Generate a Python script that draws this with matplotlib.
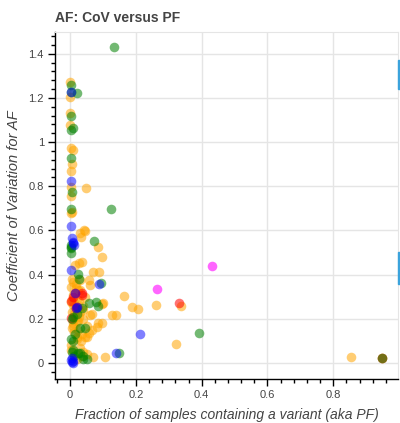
import matplotlib
matplotlib.use("Agg")
import matplotlib.pyplot as plt
from matplotlib.ticker import FixedLocator, MultipleLocator, FuncFormatter
from matplotlib.patches import Rectangle

title = "AF: CoV versus PF"
xlabel = "Fraction of samples containing a variant (aka PF)"
ylabel = "Coefficient of Variation for AF"
xticks = [0, 0.2, 0.4, 0.6, 0.8]
yticks = [0, 0.2, 0.4, 0.6, 0.8, 1.0, 1.2, 1.4]

orange_x = [0, 0, 0, 0, 0.003, 0.01, 0.005, 0.003, 0.003, 0.048, 0.003, 0.005, 0.003,
            0.043, 0.03, 0.044, 0.033, 0.086, 0.096, 0.028, 0.035, 0.015, 0.071, 0.089,
            0.005, 0.01, 0.03, 0.056, 0.061, 0.003, 0.025, 0.164, 0.005, 0.098, 0.099,
            0.337, 0.26, 0.189, 0.206, 0.066, 0.14, 0.127, 0.096, 0.086, 0.081, 0.066,
            0.051, 0.056, 0.046, 0.321, 0.106, 0.071, 0.853, 0.949, 0.003, 0.01, 0.027,
            0.061, 0.003, 0.003, 0.015, 0.01, 0.02, 0.015, 0.03, 0.02, 0.01, 0.025, 0.035,
            0.02, 0.04, 0.045, 0.005, 0.012, 0.03, 0.018, 0.04, 0.05, 0.03, 0.04, 0.05,
            0.02, 0.035, 0.012, 0.022, 0.008, 0.028, 0.015, 0.025, 0.006, 0.018, 0.033,
            0.012, 0.038, 0.022]
orange_y = [1.273, 1.205, 1.13, 1.077, 0.971, 0.964, 0.903, 0.870, 0.798, 0.79, 0.757, 0.685, 0.68,
            0.60, 0.587, 0.597, 0.571, 0.526, 0.478, 0.454, 0.458, 0.443, 0.413, 0.413,
            0.38, 0.368, 0.376, 0.376, 0.353, 0.345, 0.33, 0.305, 0.285, 0.267, 0.27,
            0.258, 0.261, 0.255, 0.246, 0.22, 0.217, 0.217, 0.182, 0.18, 0.164, 0.149,
            0.119, 0.134, 0.119, 0.086, 0.026, 0.029, 0.026, 0.021, 0.277, 0.262, 0.21,
            0.217, 0.08, 0.06, 0.047, 0.31, 0.29, 0.24, 0.23, 0.19, 0.17, 0.15, 0.13,
            0.12, 0.26, 0.3, 0.23, 0.14, 0.33, 0.36, 0.2, 0.17, 0.07, 0.05, 0.04,
            0.02, 0.03, 0.27, 0.25, 0.18, 0.28, 0.21, 0.19, 0.16, 0.34, 0.1,
            0.22, 0.24, 0.11]

green_x = [0.132, 0.003, 0.02, 0.003, 0.003, 0.008, 0.003, 0.003, 0.005, 0.003, 0.125, 0.073,
           0.003, 0.003, 0.003, 0.003, 0.023, 0.027, 0.094, 0.056, 0.078, 0.086, 0.035, 0.01,
           0.007, 0.046, 0.393, 0.003, 0.01, 0.149, 0.05, 0.038, 0.03, 0.005, 0.025, 0.949,
           0.02, 0.03, 0.015, 0.04, 0.01, 0.012]
green_y = [1.431, 1.258, 1.22, 1.225, 1.118, 1.062, 1.055, 0.929, 0.775, 0.697, 0.695, 0.553,
           0.526, 0.519, 0.496, 0.534, 0.403, 0.38, 0.363, 0.27, 0.277, 0.258, 0.247, 0.21,
           0.2, 0.157, 0.137, 0.11, 0.10, 0.044, 0.017, 0.017, 0.044, 0.051, 0.044, 0.021,
           0.22, 0.16, 0.13, 0.03, 0.06, 0.03]

red_x = [0.035, 0.035, 0.332, 0.003, 0.003, 0.015, 0.018, 0.02, 0.01, 0.949]
red_y = [0.308, 0.315, 0.273, 0.283, 0.202, 0.318, 0.247, 0.255, 0.30, 0.021]

blue_x = [0.003, 0.003, 0.003, 0.005, 0.01, 0.008, 0.012, 0.003, 0.088, 0.015, 0.018, 0.02,
          0.213, 0.14, 0.005, 0.008, 0.003, 0.01, 0.006]
blue_y = [1.225, 0.824, 0.621, 0.564, 0.542, 0.55, 0.534, 0.421, 0.36, 0.318, 0.247, 0.255,
          0.13, 0.044, 0.006, 0.01, 0.015, 0.002, 0.025]

magenta_x = [0.263, 0.432]
magenta_y = [0.336, 0.44]

fig = plt.figure(figsize=(4.0, 4.23), dpi=100)
ax = fig.add_axes([55/400, 44/423, 343/400, 347/423])

ax.set_xlim(-0.046, 0.997)
ax.set_ylim(-0.072, 1.498)

grid_c = "#e5e5e5"
ax.set_axisbelow(True)
for t in xticks:
    ax.axvline(t, color=grid_c, lw=1, zorder=0)
for t in yticks:
    ax.axhline(t, color=grid_c, lw=1, zorder=0)

S = 48
ax.scatter(orange_x, orange_y, s=S, color="orange", alpha=0.55, lw=0, zorder=2)
ax.scatter(red_x, red_y, s=S, color="red", alpha=0.55, lw=0, zorder=2)
ax.scatter(green_x, green_y, s=S, color="green", alpha=0.55, lw=0, zorder=2)
ax.scatter(blue_x, blue_y, s=S, color="blue", alpha=0.5, lw=0, zorder=2)
ax.scatter(magenta_x, magenta_y, s=S, color="magenta", alpha=0.6, lw=0, zorder=2)

for side in ["top", "right"]:
    ax.spines[side].set_color(grid_c)
for side in ["left", "bottom"]:
    ax.spines[side].set_color("black")
    ax.spines[side].set_linewidth(1)

fmt = FuncFormatter(lambda v, p: "{:g}".format(round(v, 3)))
ax.xaxis.set_major_locator(FixedLocator(xticks))
ax.yaxis.set_major_locator(FixedLocator(yticks))
ax.xaxis.set_minor_locator(MultipleLocator(0.04))
ax.yaxis.set_minor_locator(MultipleLocator(0.04))
ax.xaxis.set_major_formatter(fmt)
ax.yaxis.set_major_formatter(fmt)
ax.tick_params(which="major", direction="out", length=5, width=1, color="black",
               labelsize=8, labelcolor="#444444", pad=3)
ax.tick_params(which="minor", direction="out", length=3, width=1, color="black")
ax.tick_params(top=False, right=False, which="both")

fontfam = ["Liberation Sans", "DejaVu Sans"]
ax.set_xlabel(xlabel, fontsize=10, style="italic", color="#444444", family=fontfam, labelpad=6)
ax.set_ylabel(ylabel, fontsize=10.5, style="italic", color="#444444", family=fontfam, labelpad=5)
for lab in ax.get_xticklabels() + ax.get_yticklabels():
    lab.set_family(fontfam)

fig.text(55/400, 1 - 18/423, title, fontsize=10, fontweight="bold", color="#444444",
         family=fontfam, ha="left", va="center")

# toolbar marks on right edge
fig.patches.append(Rectangle((397.5/400, 1 - 89/423), 2.5/400, 29/423,
                             transform=fig.transFigure, color="#3ba3dc", zorder=5))
fig.patches.append(Rectangle((397.5/400, 1 - 284/423), 2.5/400, 32/423,
                             transform=fig.transFigure, color="#3ba3dc", zorder=5))

fig.savefig("out.png", dpi=100)
